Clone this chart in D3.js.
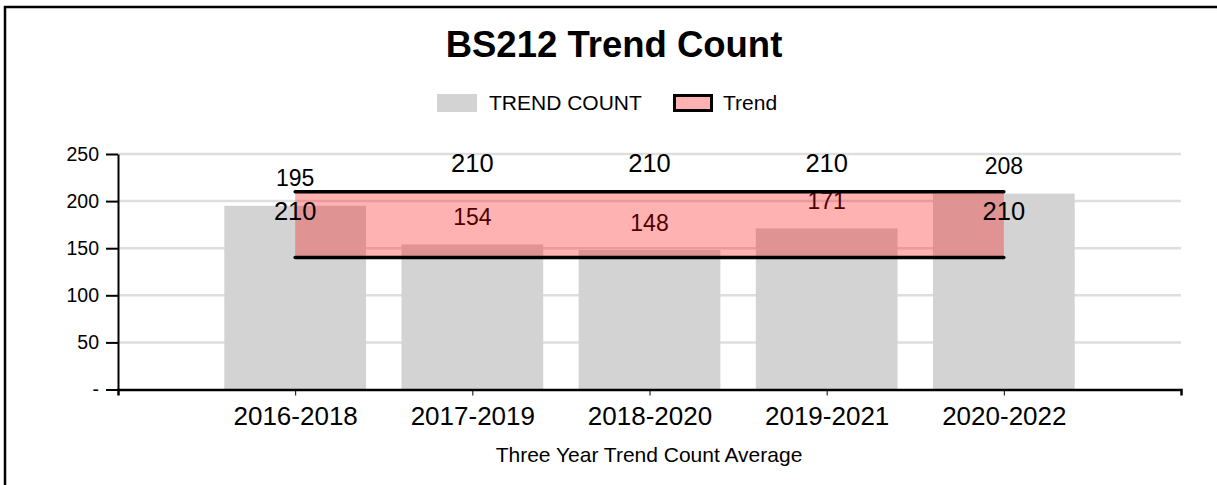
<!DOCTYPE html>
<html>
<head>
<meta charset="utf-8">
<title>BS212 Trend Count</title>
<script src="https://cdn.jsdelivr.net/npm/d3@7"></script>
<style>
    html, body { margin: 0; padding: 0; background: #fff; }
    svg { display: block; font-family: "Liberation Sans", Arial, sans-serif; }
</style>
</head>
<body>
<div id="chart-div"></div>
<script>
// DATA ///////////////////////////////////////////////////////////////////////
const categories = ["2016-2018", "2017-2019", "2018-2020", "2019-2021", "2020-2022"];
const trendCount = [195, 154, 148, 171, 208];
const trendUpper = [210, 210, 210, 210, 210];
const trendLower = [140, 140, 140, 140, 140];
const yTicks = [0, 50, 100, 150, 200, 250];

(function() {
    const width = 1217;
    const height = 485;

    // Create the blank svg with the outer frame
    function createBlankChart(w, h, p) {
        const svg = d3.select(p)
            .append("svg")
            .attr("width", w)
            .attr("height", h);
        svg.append("rect")
            .attr("x", 5).attr("y", 7)
            .attr("width", w + 20).attr("height", h + 20)
            .attr("fill", "none")
            .attr("stroke", "#000")
            .attr("stroke-width", 2.5);
        return svg;
    }

    function drawTitleAndLegend(svg) {
        svg.append("text")
            .attr("x", 614).attr("y", 56.5)
            .attr("text-anchor", "middle")
            .attr("font-size", 36.5)
            .attr("font-weight", "bold")
            .text("BS212 Trend Count");

        const lg = svg.append("g");
        lg.append("rect")
            .attr("x", 437).attr("y", 94).attr("width", 40).attr("height", 18)
            .attr("fill", "#d3d3d3");
        lg.append("text")
            .attr("x", 489).attr("y", 110)
            .attr("font-size", 21)
            .text("TREND COUNT");
        lg.append("rect")
            .attr("x", 674.5).attr("y", 95.5).attr("width", 37).attr("height", 15)
            .attr("fill", "rgba(255,0,0,0.3)")
            .attr("stroke", "#000")
            .attr("stroke-width", 3);
        lg.append("text")
            .attr("x", 723).attr("y", 110)
            .attr("font-size", 21)
            .text("Trend");
    }

    // CHART //////////////////////////////////////////////////////////////////
    function drawChart(svg) {
        const x = d3.scalePoint()
            .domain(categories)
            .range([118, 1181])
            .padding(1);
        const y = d3.scaleLinear()
            .domain([0, 250])
            .range([389.5, 154]);
        const barW = x.step() * 0.8;

        // gridlines
        svg.append("g")
            .selectAll("line")
            .data(yTicks.filter(d => d > 0))
            .enter().append("line")
            .attr("x1", x.range()[0]).attr("x2", x.range()[1])
            .attr("y1", d => y(d)).attr("y2", d => y(d))
            .attr("stroke", "#dedede")
            .attr("stroke-width", 2.5);

        // bars
        svg.append("g")
            .selectAll("rect")
            .data(trendCount)
            .enter().append("rect")
            .attr("x", (d, i) => x(categories[i]) - barW / 2)
            .attr("y", d => y(d))
            .attr("width", barW)
            .attr("height", d => y(0) - y(d))
            .attr("fill", "#d3d3d3");

        // bar labels sit below the trend band
        svg.append("g")
            .selectAll("text")
            .data(trendCount)
            .enter().append("text")
            .attr("x", (d, i) => x(categories[i]))
            .attr("y", d => y(d) - 19.5)
            .attr("text-anchor", "middle")
            .attr("font-size", 23)
            .text(d => d);

        // trend band
        const idx = d3.range(categories.length);
        const area = d3.area()
            .x(i => x(categories[i]))
            .y0(i => y(trendLower[i]))
            .y1(i => y(trendUpper[i]));
        svg.append("path")
            .datum(idx)
            .attr("d", area)
            .attr("fill", "rgba(255,0,0,0.3)");

        [trendUpper, trendLower].forEach(function(vals) {
            const line = d3.line()
                .x(i => x(categories[i]))
                .y(i => y(vals[i]));
            svg.append("path")
                .datum(idx)
                .attr("d", line)
                .attr("fill", "none")
                .attr("stroke", "#000")
                .attr("stroke-width", 3.5)
                .attr("stroke-linecap", "round");
        });

        // trend labels: ends below the line, middle ones above
        const n = categories.length;
        svg.append("g")
            .selectAll("text")
            .data(trendUpper)
            .enter().append("text")
            .attr("x", (d, i) => x(categories[i]))
            .attr("y", (d, i) => (i === 0 || i === n - 1) ? y(d) + 28.5 : y(d) - 20)
            .attr("text-anchor", "middle")
            .attr("font-size", 25.5)
            .text(d => d);

        // axes
        const yAxis = svg.append("g")
            .attr("transform", "translate(118,0)")
            .call(d3.axisLeft(y)
                .tickValues(yTicks)
                .tickSizeInner(12)
                .tickSizeOuter(0)
                .tickPadding(7)
                .tickFormat(d => d === 0 ? "-" : d));
        yAxis.selectAll("text").attr("font-size", 19.5).attr("fill", "#000")
            .style("font-family", "inherit");
        yAxis.selectAll("path, line").attr("stroke", "#000").attr("stroke-width", 2);

        const xAxis = svg.append("g")
            .attr("transform", "translate(0," + y(0) + ")")
            .call(d3.axisBottom(x)
                .tickSizeInner(6)
                .tickSizeOuter(6)
                .tickPadding(11));
        xAxis.selectAll("text").attr("font-size", 26).attr("fill", "#000")
            .style("font-family", "inherit");
        xAxis.select(".domain").attr("stroke", "#000").attr("stroke-width", 2.5);
        xAxis.selectAll(".tick line").attr("stroke", "#000").attr("stroke-width", 1);

        // x axis title
        svg.append("text")
            .attr("x", 649).attr("y", 462)
            .attr("text-anchor", "middle")
            .attr("font-size", 21)
            .text("Three Year Trend Count Average");
    }

    // ALL TOGETHER ///////////////////////////////////////////////////////////
    function main() {
        const svg = createBlankChart(width, height, "#chart-div");
        drawTitleAndLegend(svg);
        drawChart(svg);
    }
    main();
})();
</script>
</body>
</html>
